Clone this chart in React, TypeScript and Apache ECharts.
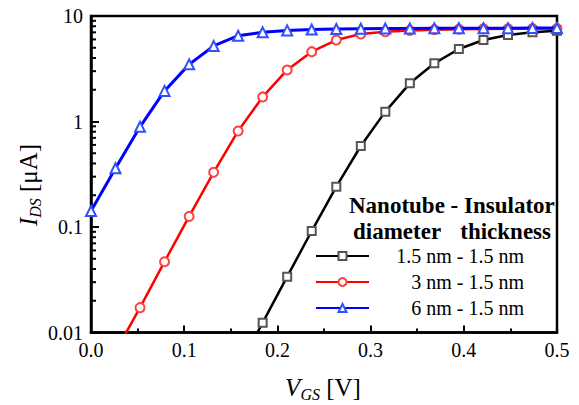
import React, { useEffect, useRef } from "react";
import * as echarts from "echarts";

const vgs = [0, 0.0263, 0.0526, 0.0789, 0.1053, 0.1316, 0.1579, 0.1842, 0.2105, 0.2368,
  0.2632, 0.2895, 0.3158, 0.3421, 0.3684, 0.3947, 0.4211, 0.4474, 0.4737, 0.5];

// index into vgs where each series starts
const blackStart = 6;
const blackValues = [0.0045, 0.0124, 0.0338, 0.0916, 0.241, 0.586, 1.24, 2.3, 3.56, 4.87, 5.92, 6.61, 7.01, 7.26];
const redStart = 1;
const redValues = [0.0066, 0.0172, 0.0469, 0.126, 0.33, 0.813, 1.71, 3.08, 4.59, 5.92, 6.75, 7.1, 7.3, 7.42, 7.5, 7.55, 7.58, 7.6, 7.62];
const blueStart = 0;
const blueValues = [0.142, 0.36, 0.89, 1.95, 3.48, 5.2, 6.5, 7.0, 7.3, 7.45, 7.52, 7.56, 7.6, 7.62, 7.64, 7.65, 7.66, 7.67, 7.68, 7.68];

const seriesNames = ["1.5 nm - 1.5 nm", "3 nm - 1.5 nm", "6 nm - 1.5 nm"];
const xTickLabels = ["0.0", "0.1", "0.2", "0.3", "0.4", "0.5"];
const yTickLabels = ["0.01", "0.1", "1", "10"];
const yTickValues = [0.01, 0.1, 1, 10];
const yMinorTicks = [0.02, 0.03, 0.04, 0.05, 0.06, 0.07, 0.08, 0.09,
  0.2, 0.3, 0.4, 0.5, 0.6, 0.7, 0.8, 0.9,
  2, 3, 4, 5, 6, 7, 8, 9];

const FONT = "Liberation Serif";

function pairs(start: number, vals: number[]) {
  return vals.map((v, k) => [vgs[start + k], v]);
}

export default function App() {
  const ref = useRef<HTMLDivElement>(null);
  useEffect(() => {
    if (!ref.current) return;
    const chart = echarts.init(ref.current, undefined, { renderer: "svg" });
    const option: any = {
      animation: false,
      backgroundColor: "#fff",
      textStyle: { fontFamily: FONT },
      grid: {
        left: 91,
        right: 22,
        top: 16,
        bottom: 72.5,
        show: true,
        borderColor: "#000",
        borderWidth: 2.5,
      },
      xAxis: {
        type: "value",
        min: 0,
        max: 0.5,
        interval: 0.1,
        axisLine: { show: true, lineStyle: { color: "#000", width: 2.5 } },
        axisTick: { show: true, inside: true, length: 7, lineStyle: { color: "#000", width: 2 } },
        minorTick: { show: true, splitNumber: 2, length: 4, lineStyle: { color: "#000", width: 2 } },
        splitLine: { show: false },
        minorSplitLine: { show: false },
        axisLabel: {
          color: "#000",
          fontSize: 20,
          fontFamily: FONT,
          margin: 7,
          formatter: (v: number) => xTickLabels[Math.round(v * 10)] ?? v.toFixed(1),
        },
      },
      yAxis: {
        type: "log",
        logBase: 10,
        min: 0.01,
        max: 10,
        axisLine: { show: true, lineStyle: { color: "#000", width: 2.5 } },
        axisTick: { show: true, inside: true, length: 8, lineStyle: { color: "#000", width: 2 } },
        splitLine: { show: false },
        axisLabel: {
          color: "#000",
          fontSize: 20,
          fontFamily: FONT,
          margin: 8,
          formatter: (v: number) => {
            const k = yTickValues.findIndex((t) => Math.abs(Math.log10(t) - Math.log10(v)) < 1e-6);
            return k >= 0 ? yTickLabels[k] : String(v);
          },
        },
      },
      legend: {
        data: seriesNames,
        orient: "vertical",
        left: 315,
        top: 246,
        itemWidth: 53,
        itemHeight: 10,
        itemGap: 6,
        padding: 0,
        formatter: (name: string) => "{t|" + name + "}",
        textStyle: {
          fontFamily: FONT,
          rich: {
            t: { width: 150, align: "right", fontSize: 20, lineHeight: 20, fontFamily: FONT, color: "#000" },
          },
        },
      },
      graphic: [
        {
          type: "text",
          left: 349,
          top: 194,
          style: { text: "Nanotube - Insulator", font: "bold 23px 'Liberation Serif'", fill: "#000" },
        },
        {
          type: "text",
          left: 353,
          top: 220,
          style: { text: "diameter", font: "bold 23px 'Liberation Serif'", fill: "#000" },
        },
        {
          type: "text",
          right: 28,
          top: 220,
          style: { text: "thickness", font: "bold 23px 'Liberation Serif'", fill: "#000" },
        },
        {
          type: "text",
          x: 323,
          y: 387,
          style: {
            text: "{i|V}{s|GS}{n| [V]}",
            align: "center",
            verticalAlign: "middle",
            rich: {
              i: { fontSize: 25, fontStyle: "italic", fontFamily: FONT, lineHeight: 30, fill: "#000" },
              s: { fontSize: 16, fontStyle: "italic", fontFamily: FONT, lineHeight: 12, verticalAlign: "bottom", fill: "#000" },
              n: { fontSize: 25, fontFamily: FONT, lineHeight: 30, fill: "#000" },
            },
          },
        },
        {
          type: "text",
          x: 28,
          y: 185,
          rotation: Math.PI / 2,
          style: {
            text: "{i|I}{s|DS}{n| [μA]}",
            align: "center",
            verticalAlign: "middle",
            rich: {
              i: { fontSize: 25, fontStyle: "italic", fontFamily: FONT, lineHeight: 30, fill: "#000" },
              s: { fontSize: 16, fontStyle: "italic", fontFamily: FONT, lineHeight: 12, verticalAlign: "bottom", fill: "#000" },
              n: { fontSize: 25, fontFamily: FONT, lineHeight: 30, fill: "#000" },
            },
          },
        },
      ],
      series: [
        {
          name: seriesNames[0],
          type: "line",
          data: pairs(blackStart, blackValues),
          symbol: "emptyRect",
          symbolSize: 8,
          lineStyle: { color: "#000", width: 2.5 },
          itemStyle: { color: "#555", borderWidth: 1.2 },
          clip: true,
          z: 3,
        },
        {
          name: seriesNames[1],
          type: "line",
          data: pairs(redStart, redValues),
          symbol: "emptyCircle",
          symbolSize: 9,
          lineStyle: { color: "#ff0000", width: 2.5 },
          itemStyle: { color: "#ff4040", borderWidth: 1.2 },
          clip: true,
          z: 4,
        },
        {
          name: seriesNames[2],
          type: "line",
          data: pairs(blueStart, blueValues),
          symbol: "emptyTriangle",
          symbolSize: 10,
          lineStyle: { color: "#0000ff", width: 3 },
          itemStyle: { color: "#3050ff", borderWidth: 1.2 },
          clip: true,
          z: 5,
        },
        {
          type: "custom",
          silent: true,
          data: yMinorTicks.map((v) => [0, v]),
          renderItem: (params: any, api: any) => {
            const p = api.coord([0, api.value(1)]);
            return {
              type: "line",
              shape: { x1: p[0], y1: p[1], x2: p[0] + 5, y2: p[1] },
              style: { stroke: "#000", lineWidth: 2 },
            };
          },
          z: 6,
        },
      ],
    };
    chart.setOption(option);
    return () => chart.dispose();
  }, []);
  return (
    <div
      ref={ref}
      style={{ position: "fixed", left: 0, top: 0, width: 579, height: 405, background: "#fff" }}
    />
  );
}
